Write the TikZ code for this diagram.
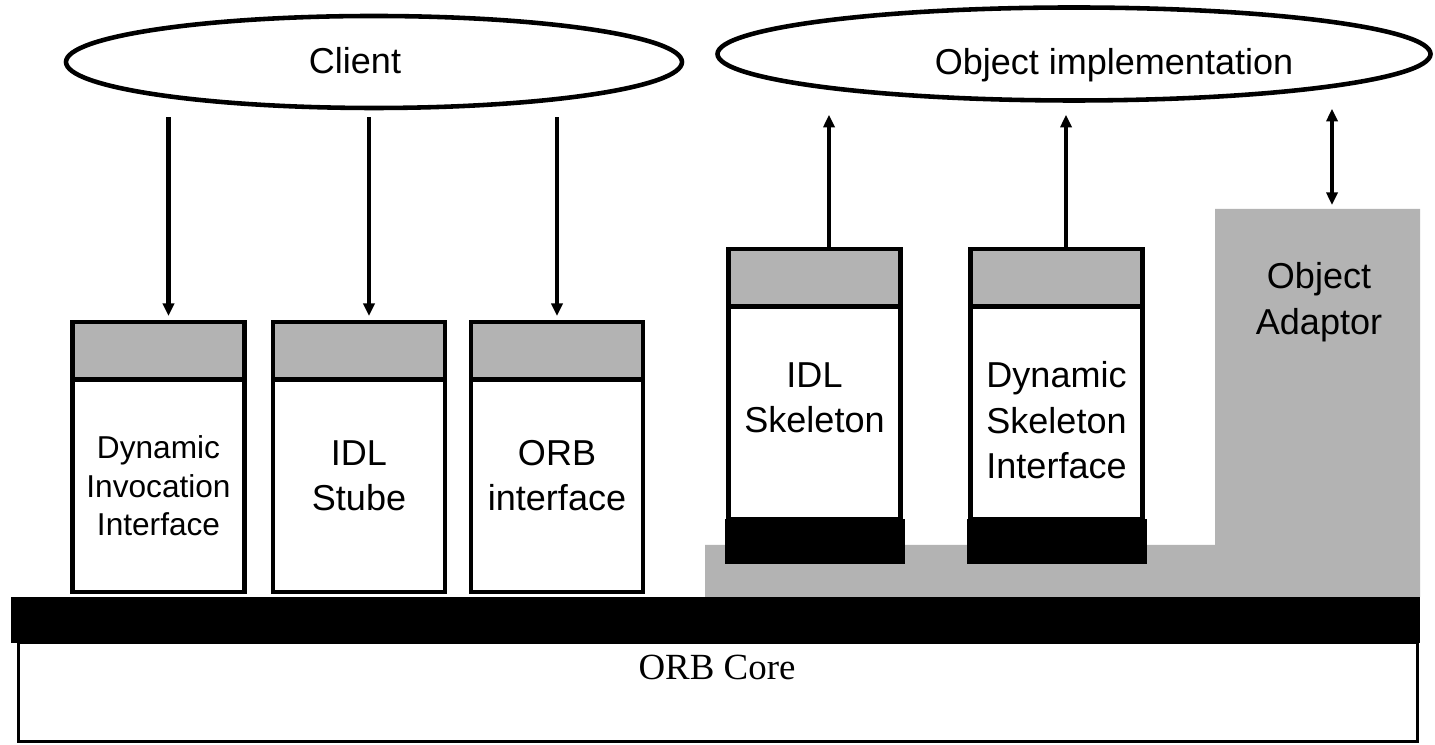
\documentclass[tikz,border=0pt]{standalone}
\usepackage{fontspec}
\setmainfont{Liberation Sans}
\newfontfamily\orbfont{Liberation Serif}
\usetikzlibrary{arrows.meta,shapes.geometric}
\definecolor{boxgray}{HTML}{B3B3B3}
\tikzset{
  cloud/.style={draw, ellipse, line width=2.6pt, inner sep=0pt},
  hdr/.style={draw, fill=boxgray, line width=2.7pt, outer sep=0pt, inner sep=0pt,
    minimum width=3.44cm, minimum height=1.15cm},
  body/.style={draw, fill=white, line width=2.7pt, outer sep=0pt, inner sep=0pt,
    minimum width=3.44cm, minimum height=4.25cm},
  foot/.style={fill=black, outer sep=0pt, inner sep=0pt, minimum width=3.6cm, minimum height=0.9cm},
  big/.style={font={\fontsize{20.5}{26}\selectfont}},
  smalltxt/.style={font={\fontsize{18}{22}\selectfont}},
}
\begin{document}
\begin{tikzpicture}[>={Triangle[length=.25cm,width=.22cm]}, line width=2.6pt]
    \useasboundingbox (0,0) rectangle (28.7,14.9);

    % ORB core and bus
    \node[draw, line width=1.7pt, minimum width=27.98cm, minimum height=1.97cm] (orb) at (14.36,1.055) {};
    \node[font={\orbfont\fontsize{21}{25}\selectfont}, anchor=base] (orbtxt) at (14.34,1.30) {ORB Core};
    \fill (0.22,2.04) rectangle (28.4,2.96);

    % object adaptor
    \fill[boxgray] (14.1,2.96) -- (14.1,4.0) -- (24.3,4.0) -- (24.3,10.72) -- (28.4,10.72) -- (28.4,2.96) -- cycle;
    \node[big, align=center] (oa) at (26.38,8.86) {Object\\Adaptor};
    \coordinate (oatop) at (26.64,10.72);

    % ellipses
    \node[cloud, minimum width=12.32cm, minimum height=1.84cm] (client) at (7.48,13.66) {};
    \node[big, anchor=base] (clienttxt) at (7.10,13.42) {Client};
    \node[cloud, minimum width=14.26cm, minimum height=1.86cm] (objimpl) at (21.48,13.82) {};
    \node[big, anchor=base] (objimpltxt) at (22.28,13.40) {Object implementation};

    % client side
    \node[hdr] (diihdr) at (3.17,7.885) {};
    \node[body, anchor=north] (dii) at (diihdr.south) {};
    \node[smalltxt, align=center] (diitxt) at (dii) {Dynamic\\Invocation\\Interface};

    \node[hdr] (stubhdr) at (7.18,7.885) {};
    \node[body, anchor=north] (stub) at (stubhdr.south) {};
    \node[big, align=center, yshift=.2cm] (stubtxt) at (stub) {IDL\\Stube};

    \node[hdr] (orbhdr) at (11.14,7.885) {};
    \node[body, anchor=north] (orbif) at (orbhdr.south) {};
    \node[big, align=center, yshift=.2cm] (orbiftxt) at (orbif) {ORB\\interface};

    \foreach \b/\s in {diihdr/.2, stubhdr/.2, orbhdr/0}
    {
      \draw[->, shorten <=.14cm, shorten >=.12cm] ([xshift=\s cm]client.south -| \b.north) -- ([xshift=\s cm]\b.north);
    }

    % server side
    \node[hdr] (idlhdr) at (16.29,9.345) {};
    \node[body, anchor=north] (idlskel) at (idlhdr.south) {};
    \node[foot, anchor=north] (idlfoot) at (idlskel.south) {};
    \node[big, align=center, yshift=.3cm] (idlskeltxt) at (idlskel) {IDL\\Skeleton};

    \node[hdr] (dsihdr) at (21.13,9.345) {};
    \node[body, anchor=north] (dsi) at (dsihdr.south) {};
    \node[foot, anchor=north] (dsifoot) at (dsi.south) {};
    \node[big, align=center, yshift=-.15cm] (dsitxt) at (dsi) {Dynamic\\Skeleton\\Interface};

    \draw[->, shorten >=.24cm] ([xshift=.29cm]idlhdr.north) -- ([xshift=.29cm]idlhdr.north |- objimpl.south);
    \draw[->, shorten >=.24cm] ([xshift=.19cm]dsihdr.north) -- ([xshift=.19cm]dsihdr.north |- objimpl.south);
    \draw[<->, shorten <=.08cm, shorten >=.12cm] (oatop) -- (oatop |- objimpl.south);

\end{tikzpicture}
\end{document}
